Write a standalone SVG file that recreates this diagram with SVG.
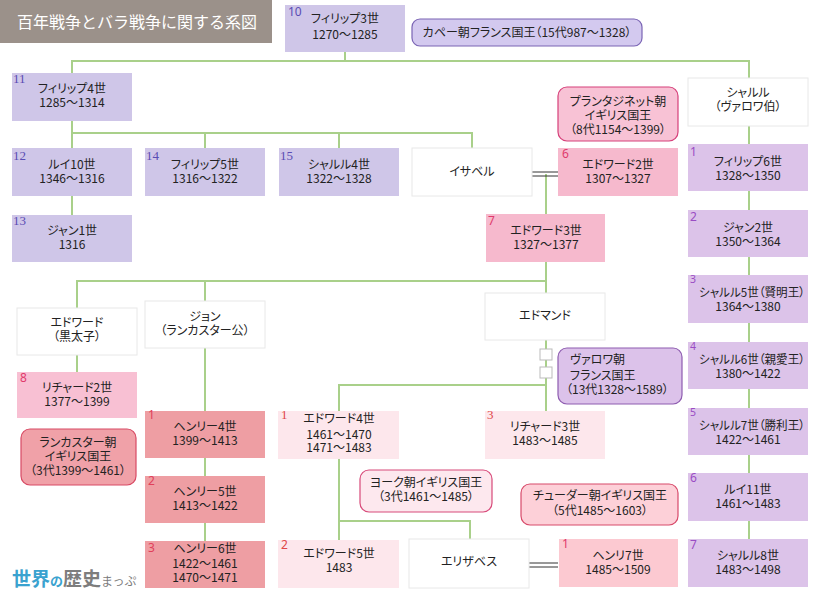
<svg xmlns="http://www.w3.org/2000/svg" width="824" height="600" viewBox="0 0 824 600">
<style>
.t{font-family:"Noto Sans CJK JP","Noto Sans",sans-serif;font-size:12px;fill:#222;text-anchor:middle;font-feature-settings:"palt";}
.l{text-anchor:start;}
.ns{font-family:"Liberation Serif",serif;font-size:13px;}
.nn{font-family:"Noto Sans","Liberation Sans",sans-serif;font-size:12px;}
.sm{font-size:10.5px;}
.cap{fill:#cfc6e8;}
.capn{fill:#5a4cb4;}
.val{fill:#dcc3e9;}
.valn{fill:#9a4cc4;}
.pla{fill:#f6b9cd;}
.plan{fill:#e03a6c;}
.lan{fill:#ee9ea3;}
.lann{fill:#e0405a;}
.yor{fill:#fde7ec;}
.yorn{fill:#e04848;}
.tud{fill:#fcc9d1;}
.wh{fill:#fff;stroke:#e8e8e8;stroke-width:1;}
.conn line,.conn polyline{stroke:#a9d08a;stroke-width:2;fill:none;}
.mar line{stroke:#333;stroke-width:1;}
.sq{fill:#fff;stroke:#bbb;stroke-width:1;}
</style>

<g id="title">
<rect x="0" y="0" width="272" height="43" fill="#9b918a"/>
<text x="17" y="28" style="font-family:'Noto Sans CJK JP',sans-serif;font-size:16px;fill:#fff;">百年戦争とバラ戦争に関する系図</text>
</g>

<g id="connectors" class="conn">
<line x1="345" y1="52" x2="345" y2="61"/>
<line x1="71" y1="61" x2="750" y2="61"/>
<line x1="72" y1="61" x2="72" y2="73"/>
<line x1="749" y1="61" x2="749" y2="78"/>
<line x1="72" y1="121" x2="72" y2="133"/>
<line x1="71" y1="133" x2="473" y2="133"/>
<line x1="205" y1="133" x2="205" y2="148"/>
<line x1="339" y1="133" x2="339" y2="148"/>
<line x1="472" y1="133" x2="472" y2="148"/>
<line x1="72" y1="133" x2="72" y2="148"/>
<line x1="72" y1="196" x2="72" y2="215"/>
<line x1="749" y1="126" x2="749" y2="144"/>
<line x1="749" y1="191" x2="749" y2="210"/>
<line x1="749" y1="257" x2="749" y2="275"/>
<line x1="749" y1="323" x2="749" y2="342"/>
<line x1="749" y1="389" x2="749" y2="408"/>
<line x1="749" y1="455" x2="749" y2="473"/>
<line x1="749" y1="521" x2="749" y2="539"/>
<line x1="546" y1="174" x2="546" y2="214"/>
<line x1="546" y1="262" x2="546" y2="293"/>
<line x1="76" y1="281" x2="547" y2="281"/>
<line x1="77" y1="281" x2="77" y2="308"/>
<line x1="205" y1="281" x2="205" y2="301"/>
<line x1="77" y1="355" x2="77" y2="372"/>
<line x1="205" y1="348" x2="205" y2="411"/>
<line x1="205" y1="458" x2="205" y2="476"/>
<line x1="205" y1="523" x2="205" y2="541"/>
<line x1="546" y1="340" x2="546" y2="411"/>
<line x1="338" y1="385" x2="547" y2="385"/>
<line x1="339" y1="385" x2="339" y2="411"/>
<line x1="339" y1="459" x2="339" y2="540"/>
<line x1="338" y1="521" x2="471" y2="521"/>
<line x1="470" y1="521" x2="470" y2="539"/>
<rect class="sq" x="540" y="349" width="12" height="11"/>
<rect class="sq" x="540" y="367" width="12" height="11"/>
<g class="mar">
<line x1="532" y1="172" x2="558" y2="172"/>
<line x1="532" y1="176" x2="558" y2="176"/>
<line x1="529" y1="563" x2="558" y2="563"/>
<line x1="529" y1="567" x2="558" y2="567"/>
</g>
</g>

<g id="philip3">
<rect class="cap" x="285" y="5" width="120" height="47"/>
<text class="nn capn" x="288" y="16">10</text>
<text class="t" x="345" y="23">フィリップ3世</text>
<text class="t" x="345" y="39">1270〜1285</text>
</g>
<g id="capet-label">
<rect x="412" y="19" width="230" height="27" rx="8" fill="#d3c9ef" stroke="#7a64b4" stroke-width="1.2"/>
<text class="t" x="527" y="37">カペー朝フランス国王（15代987〜1328）</text>
</g>
<g id="philip4">
<rect class="cap" x="12" y="73" width="120" height="48"/>
<text class="ns capn" x="13" y="83">11</text>
<text class="t" x="72" y="93">フィリップ4世</text>
<text class="t" x="72" y="107">1285〜1314</text>
</g>
<g id="louis10">
<rect class="cap" x="12" y="148" width="120" height="48"/>
<text class="ns capn" x="13" y="160">12</text>
<text class="t" x="72" y="169">ルイ10世</text>
<text class="t" x="72" y="183">1346〜1316</text>
</g>
<g id="jean1">
<rect class="cap" x="12" y="215" width="120" height="47"/>
<text class="ns capn" x="13" y="225">13</text>
<text class="t" x="72" y="235">ジャン1世</text>
<text class="t" x="72" y="249">1316</text>
</g>
<g id="philip5">
<rect class="cap" x="145" y="148" width="120" height="48"/>
<text class="ns capn" x="146" y="160">14</text>
<text class="t" x="205" y="169">フィリップ5世</text>
<text class="t" x="205" y="183">1316〜1322</text>
</g>
<g id="charles4">
<rect class="cap" x="279" y="148" width="120" height="48"/>
<text class="ns capn" x="280" y="160">15</text>
<text class="t" x="339" y="169">シャルル4世</text>
<text class="t" x="339" y="183">1322〜1328</text>
</g>
<g id="isabelle">
<rect class="wh" x="412" y="148" width="120" height="48"/>
<text class="t" x="472" y="176">イサベル</text>
</g>
<g id="plantagenet-label">
<rect x="558" y="87" width="120" height="54" rx="9" fill="#f8c2d5" stroke="#d6407a" stroke-width="1.2"/>
<text class="t" x="618" y="106">プランタジネット朝</text>
<text class="t" x="618" y="120">イギリス国王</text>
<text class="t" x="618" y="134">（8代1154〜1399）</text>
</g>
<g id="edward2">
<rect class="pla" x="558" y="148" width="120" height="48"/>
<text class="nn plan" x="562" y="158">6</text>
<text class="t" x="618" y="169">エドワード2世</text>
<text class="t" x="618" y="183">1307〜1327</text>
</g>
<g id="charles-valois">
<rect class="wh" x="688" y="78" width="120" height="48"/>
<text class="t" x="748" y="97">シャルル</text>
<text class="t" x="748" y="111">（ヴァロワ伯）</text>
</g>
<g id="philip6">
<rect class="val" x="688" y="144" width="120" height="47"/>
<text class="nn valn" x="690" y="156">1</text>
<text class="t" x="748" y="166">フィリップ6世</text>
<text class="t" x="748" y="180">1328〜1350</text>
</g>
<g id="jean2">
<rect class="val" x="688" y="210" width="120" height="47"/>
<text class="nn valn" x="690" y="221">2</text>
<text class="t" x="748" y="232">ジャン2世</text>
<text class="t" x="748" y="246">1350〜1364</text>
</g>
<g id="charles5">
<rect class="val" x="688" y="275" width="120" height="48"/>
<text class="nn valn sm" x="690" y="283">3</text>
<text class="t" x="752" y="297" textLength="106" lengthAdjust="spacingAndGlyphs">シャルル5世（賢明王）</text>
<text class="t" x="748" y="311">1364〜1380</text>
</g>
<g id="charles6">
<rect class="val" x="688" y="342" width="120" height="47"/>
<text class="nn valn sm" x="690" y="350">4</text>
<text class="t" x="752" y="364" textLength="106" lengthAdjust="spacingAndGlyphs">シャルル6世（親愛王）</text>
<text class="t" x="748" y="378">1380〜1422</text>
</g>
<g id="charles7">
<rect class="val" x="688" y="408" width="120" height="47"/>
<text class="nn valn sm" x="690" y="416">5</text>
<text class="t" x="752" y="430" textLength="106" lengthAdjust="spacingAndGlyphs">シャルル7世（勝利王）</text>
<text class="t" x="748" y="444">1422〜1461</text>
</g>
<g id="louis11">
<rect class="val" x="688" y="473" width="120" height="48"/>
<text class="nn valn" x="690" y="482">6</text>
<text class="t" x="748" y="494">ルイ11世</text>
<text class="t" x="748" y="508">1461〜1483</text>
</g>
<g id="charles8">
<rect class="val" x="688" y="539" width="120" height="48"/>
<text class="nn valn" x="690" y="549">7</text>
<text class="t" x="748" y="560">シャルル8世</text>
<text class="t" x="748" y="574">1483〜1498</text>
</g>
<g id="edward3">
<rect class="pla" x="486" y="214" width="119" height="48"/>
<text class="nn plan" x="488" y="225">7</text>
<text class="t" x="546" y="235">エドワード3世</text>
<text class="t" x="546" y="249">1327〜1377</text>
</g>
<g id="black-prince">
<rect class="wh" x="17" y="308" width="120" height="47"/>
<text class="t" x="77" y="327">エドワード</text>
<text class="t" x="77" y="341">（黒太子）</text>
</g>
<g id="john-gaunt">
<rect class="wh" x="145" y="301" width="120" height="47"/>
<text class="t" x="205" y="321">ジョン</text>
<text class="t" x="205" y="335">（ランカスター公）</text>
</g>
<g id="edmund">
<rect class="wh" x="485" y="293" width="120" height="47"/>
<text class="t" x="545" y="320">エドマンド</text>
</g>
<g id="valois-label">
<rect x="558" y="348" width="124" height="56" rx="9" fill="#dcc2ea" stroke="#8e5cb0" stroke-width="1.2"/>
<text class="t l" x="570" y="364">ヴァロワ朝</text>
<text class="t l" x="570" y="380">フランス国王</text>
<text class="t l" x="566" y="394">（13代1328〜1589）</text>
</g>
<g id="richard2">
<rect class="pla" x="17" y="372" width="120" height="46" style="fill:#f8c0d3"/>
<text class="nn plan" x="20" y="382">8</text>
<text class="t" x="77" y="392">リチャード2世</text>
<text class="t" x="77" y="406">1377〜1399</text>
</g>
<g id="lancaster-label">
<rect x="21" y="429" width="115" height="56" rx="9" fill="#f0a1a8" stroke="#d84a64" stroke-width="1.2"/>
<text class="t" x="78" y="447">ランカスター朝</text>
<text class="t" x="78" y="461">イギリス国王</text>
<text class="t" x="78" y="475">（3代1399〜1461）</text>
</g>
<g id="henry4">
<rect class="lan" x="145" y="411" width="120" height="47"/>
<text class="nn lann" x="148" y="419">1</text>
<text class="t" x="205" y="431">ヘンリー4世</text>
<text class="t" x="205" y="445">1399〜1413</text>
</g>
<g id="henry5">
<rect class="lan" x="145" y="476" width="120" height="47"/>
<text class="nn lann" x="148" y="485">2</text>
<text class="t" x="205" y="496">ヘンリー5世</text>
<text class="t" x="205" y="510">1413〜1422</text>
</g>
<g id="henry6">
<rect class="lan" x="145" y="541" width="120" height="47"/>
<text class="nn lann" x="148" y="552">3</text>
<text class="t" x="205" y="553">ヘンリー6世</text>
<text class="t" x="205" y="568">1422〜1461</text>
<text class="t" x="205" y="582">1470〜1471</text>
</g>
<g id="edward4">
<rect class="yor" x="278" y="411" width="121" height="48"/>
<text class="ns yorn" x="281" y="419">1</text>
<text class="t" x="339" y="423">エドワード4世</text>
<text class="t" x="339" y="439">1461〜1470</text>
<text class="t" x="339" y="452">1471〜1483</text>
</g>
<g id="richard3">
<rect class="yor" x="485" y="411" width="120" height="48"/>
<text class="ns yorn" x="487" y="419">3</text>
<text class="t" x="545" y="431">リチャード3世</text>
<text class="t" x="545" y="445">1483〜1485</text>
</g>
<g id="york-label">
<rect x="360" y="470" width="132" height="42" rx="9" fill="#fde8ee" stroke="#d84a7a" stroke-width="1.2"/>
<text class="t" x="426" y="487">ヨーク朝イギリス国王</text>
<text class="t" x="426" y="501">（3代1461〜1485）</text>
</g>
<g id="tudor-label">
<rect x="521" y="484" width="157" height="41" rx="9" fill="#fdd0d8" stroke="#d84a6a" stroke-width="1.2"/>
<text class="t" x="600" y="500">チューダー朝イギリス国王</text>
<text class="t" x="600" y="515">（5代1485〜1603）</text>
</g>
<g id="edward5">
<rect class="yor" x="278" y="540" width="121" height="48"/>
<text class="nn yorn" x="281" y="549">2</text>
<text class="t" x="339" y="558">エドワード5世</text>
<text class="t" x="339" y="572">1483</text>
</g>
<g id="elizabeth">
<rect class="wh" x="409" y="539" width="120" height="49"/>
<text class="t" x="469" y="566">エリザベス</text>
</g>
<g id="henry7">
<rect class="tud" x="559" y="539" width="119" height="48"/>
<text class="nn plan" x="562" y="548">1</text>
<text class="t" x="618" y="560">ヘンリ7世</text>
<text class="t" x="618" y="574">1485〜1509</text>
</g>

<g id="logo">
<text x="12" y="586" style="font-family:'Noto Sans CJK JP',sans-serif;font-weight:bold;"><tspan font-size="19" fill="#3aa2cf">世界</tspan><tspan font-size="13" fill="#3aa2cf">の</tspan><tspan font-size="19" fill="#7d7d7d">歴史</tspan><tspan font-size="12" fill="#7d7d7d" font-weight="normal">まっぷ</tspan></text>
</g>
</svg>
